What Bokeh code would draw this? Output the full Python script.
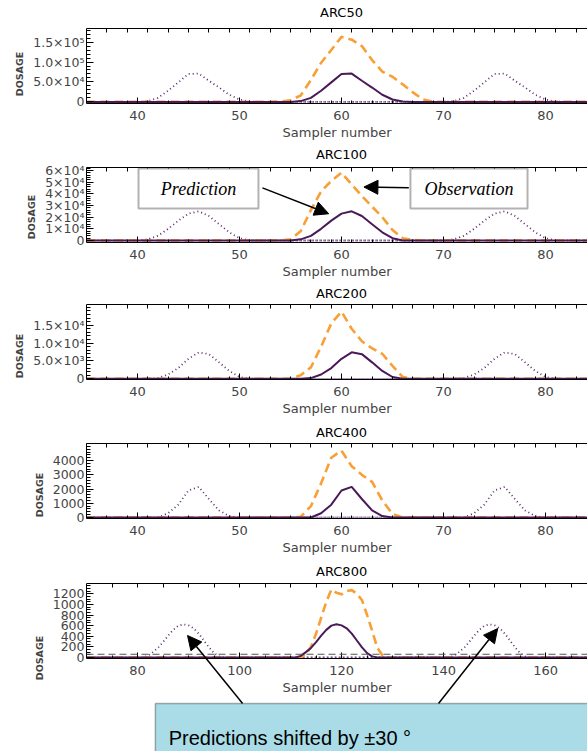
from bokeh.plotting import figure
from bokeh.layouts import column
from bokeh.models import (FixedTicker, LinearAxis, Range1d, Arrow, NormalHead,
                          Label, BoxAnnotation, Span)
from bokeh.embed import file_html
from bokeh.resources import INLINE

# ---------------- data ----------------
TITLES = ["ARC50", "ARC100", "ARC200", "ARC400", "ARC800"]

# Observations (first sampler number, dosage per sampler)
OBS50_START = 53
OBS50 = [0, 1e3, 4e3, 1.6e4, 5.5e4, 9.8e4, 1.3e5, 1.63e5, 1.56e5, 1.4e5,
         1.05e5, 7.6e4, 6.3e4, 4.4e4, 2.4e4, 6e3, 0]
OBS100_START = 54
OBS100 = [0, 1e3, 8e3, 2.6e4, 4.2e4, 5.1e4, 5.8e4, 4.8e4, 3.8e4, 2.9e4,
          2.0e4, 9e3, 2e3, 500, 0]
OBS200_START = 54
OBS200 = [0, 100, 1e3, 3.2e3, 9e3, 1.55e4, 1.88e4, 1.4e4, 1.05e4, 8.5e3,
          7e3, 3.6e3, 500, 0]
OBS400_START = 55
OBS400 = [0, 50, 800, 2.4e3, 4.2e3, 4.7e3, 3.6e3, 3.0e3, 2.5e3, 1.2e3, 250, 0]
OBS800_START = 112
OBS800 = [0, 60, 200, 450, 750, 1050, 1280, 1220, 1190, 1250, 1270, 1200,
          1080, 800, 500, 180, 40, 0]

# Predictions
PRED50_START = 55
PRED50 = [0, 2e3, 1e4, 2.8e4, 4.9e4, 7.0e4, 7.1e4, 5.3e4, 3.6e4, 1.8e4, 6e3, 1e3, 0]
PRED100_START = 55
PRED100 = [0, 1e3, 4e3, 1.0e4, 1.7e4, 2.3e4, 2.5e4, 2.1e4, 1.4e4, 7e3, 2e3, 0]
PRED200_START = 56
PRED200 = [0, 200, 1.2e3, 3e3, 5.6e3, 7.4e3, 6.9e3, 4.6e3, 2.2e3, 500, 0]
PRED400_START = 57
PRED400 = [0, 300, 900, 1.9e3, 2.15e3, 1.3e3, 500, 100, 0]
PRED800_START = 111
PRED800 = [0, 30, 100, 180, 290, 410, 520, 600, 625, 605, 550, 450, 320, 190, 80, 20, 0]

# shift of the predictions (samplers) corresponding to +/-30 degrees
SHIFT = [15, 15, 15, 15, 30]
THRESHOLD800 = 60

SAMPLER_SPAN = [(35, 85), (35, 85), (35, 85), (35, 85), (70, 170)]
X_RANGES = [(35, 84.12)] * 4 + [(70, 168.2)]
# plotted y extent of each panel
Y_RANGES = [(-4000, 184000), (-1700, 62500), (-200, 20800), (-70, 5200), (-20, 1395)]

X_TICKS = [[40, 50, 60, 70, 80]] * 4 + [[80, 100, 120, 140, 160]]
Y_TICKS = [[0, 5e4, 1e5, 1.5e5],
           [0, 1e4, 2e4, 3e4, 4e4, 5e4, 6e4],
           [0, 5e3, 1e4, 1.5e4],
           [0, 1000, 2000, 3000, 4000],
           [0, 200, 400, 600, 800, 1000, 1200]]
Y_LABELS = [["0", "5.0×10⁴", "1.0×10⁵", "1.5×10⁵"],
            ["0", "1×10⁴", "2×10⁴", "3×10⁴", "4×10⁴", "5×10⁴", "6×10⁴"],
            ["0", "5.0×10³", "1.0×10⁴", "1.5×10⁴"],
            ["0", "1000", "2000", "3000", "4000"],
            ["0", "200", "400", "600", "800", "1000", "1200"]]
Y_MINOR_STEP = [1e4, 2e3, 1e3, 200, 50]
X_MINOR_STEP = [2, 2, 2, 2, 5]

OBS = [(OBS50_START, OBS50), (OBS100_START, OBS100), (OBS200_START, OBS200),
       (OBS400_START, OBS400), (OBS800_START, OBS800)]
PRED = [(PRED50_START, PRED50), (PRED100_START, PRED100), (PRED200_START, PRED200),
        (PRED400_START, PRED400), (PRED800_START, PRED800)]

# ---------------- layout / style ----------------
FIG_W = 587
FIG_H = [147, 139, 139, 139, 187]
BOX_TOP = [28, 20, 18, 18, 19]      # px from figure top to top of plot box
BOX_H = 75                          # px height of plot box
TITLE_Y = [12, 7, 7, 7, 7]          # px from figure top to title centre

FONT = "DejaVu Sans"
PURPLE = "#4a1a58"
DOT_PURPLE = "#5c2c6c"
ORANGE = "#f8a036"


def series(start, vals, lo, hi):
    xs = [lo] + list(range(start, start + len(vals))) + [hi]
    ys = [0] + list(vals) + [0]
    return xs, ys


def frange(a, b, step):
    out = []
    v = a
    while v <= b + 1e-9:
        out.append(v)
        v += step
    return out


def head():
    return NormalHead(size=14, fill_color="black", line_color="black", line_width=1)


figs = []
for i in range(5):
    last = i == 4
    h = FIG_H[i]
    x0, x1 = X_RANGES[i]
    y0, y1 = Y_RANGES[i]
    s = (y1 - y0) / BOX_H
    ytop = y1 + BOX_TOP[i] * s
    ybot = y0 - (h - BOX_TOP[i] - BOX_H) * s

    p = figure(width=FIG_W, height=h, output_backend="svg", toolbar_location=None,
               x_range=Range1d(x0, x1), y_range=Range1d(ybot, ytop),
               min_border_left=86, min_border_right=0, min_border_top=0,
               min_border_bottom=0)
    p.outline_line_color = None
    p.grid.visible = False
    p.background_fill_color = "white"
    p.border_fill_color = "white"

    lo, hi = SAMPLER_SPAN[i]
    p.add_layout(Label(x=(lo + hi) / 2, y=ytop - TITLE_Y[i] * s, text=TITLES[i],
                       text_align="center", text_baseline="middle",
                       text_font=FONT, text_font_size="13px", text_color="black"))

    xa = p.xaxis[0]
    xa.ticker = FixedTicker(ticks=X_TICKS[i], minor_ticks=frange(x0, x1, X_MINOR_STEP[i]))
    xa.fixed_location = y0
    xa.axis_label = "Sampler number"
    xa.axis_label_text_font = FONT
    xa.axis_label_text_font_size = "13px"
    xa.axis_label_text_font_style = "normal"
    xa.axis_label_standoff = 2
    xa.major_label_text_font = FONT
    xa.major_label_text_font_size = "13px"
    xa.major_label_standoff = 7
    xa.major_tick_in = 6
    xa.major_tick_out = 0
    xa.minor_tick_in = 3
    xa.minor_tick_out = 0
    xa.axis_line_color = "black"

    ya = p.yaxis[0]
    ya.ticker = FixedTicker(ticks=Y_TICKS[i], minor_ticks=frange(0, y1, Y_MINOR_STEP[i]))
    ya.bounds = (y0, y1)
    ya.major_label_overrides = {t: l for t, l in zip(Y_TICKS[i], Y_LABELS[i])}
    ya.axis_label = "DOSAGE"
    ya.axis_label_text_font = FONT
    ya.axis_label_text_font_size = "9.5px"
    ya.axis_label_text_font_style = "bold"
    ya.axis_label_standoff = 5
    ya.major_label_text_font = FONT
    ya.major_label_text_font_size = "12.5px"
    ya.major_label_standoff = 2
    ya.major_tick_in = 7
    ya.major_tick_out = 0
    ya.minor_tick_in = 4
    ya.minor_tick_out = 0
    ya.axis_line_color = "black"

    top = LinearAxis(ticker=FixedTicker(ticks=[],
                                        minor_ticks=frange(x0, x1, X_MINOR_STEP[i])),
                     fixed_location=y1,
                     major_label_standoff=0, major_tick_in=0, major_tick_out=0,
                     minor_tick_in=4, minor_tick_out=0, axis_line_color="black")
    p.add_layout(top, "above")

    if last:
        p.add_layout(Span(location=THRESHOLD800, dimension="width",
                          line_color="#555555", line_dash="7 4", line_width=1))

    px, py = series(PRED[i][0], PRED[i][1], lo, hi)
    for sh in (-SHIFT[i], SHIFT[i]):
        p.line([x + sh for x in px], py, line_color=DOT_PURPLE, line_width=1.8,
               line_dash="1 3")
    ox, oy = series(OBS[i][0], OBS[i][1], lo, hi)
    p.line(ox, oy, line_color=ORANGE, line_width=2.6, line_dash="9 5")
    p.line(px, py, line_color=PURPLE, line_width=2)

    if i == 1:
        for (l, r, cx, txt) in [(40.1, 51.86, 45.98, "Prediction"),
                                (66.76, 78.24, 72.5, "Observation")]:
            p.add_layout(BoxAnnotation(left=l, right=r, top=61600, bottom=27400,
                                       fill_color="white", fill_alpha=1,
                                       line_color="black", line_width=2))
            p.add_layout(Label(x=cx, y=44500, text=txt, text_align="center",
                               text_baseline="middle", text_font="Liberation Serif",
                               text_font_style="italic", text_font_size="18px",
                               text_color="black"))
        p.add_layout(Arrow(end=head(), x_start=52.25, y_start=45100,
                           x_end=58.75, y_end=22900,
                           line_color="black", line_width=1.5))
        p.add_layout(Arrow(end=head(), x_start=66.6, y_start=45100,
                           x_end=62.2, y_end=45800,
                           line_color="black", line_width=1.5))
    if last:
        p.add_layout(BoxAnnotation(left=83.5, right=200, top=y0 - 45 * s,
                                   bottom=ybot - 10 * s,
                                   fill_color="#a9dce6", fill_alpha=1,
                                   line_color="black", line_width=1.5))
        p.add_layout(Label(x=86.1, y=y0 - 79 * s, text="Predictions shifted by ±30 °",
                           text_align="left", text_baseline="alphabetic",
                           text_font="Liberation Sans", text_font_size="20px",
                           text_color="black"))
        for (xs, ys, xe, ye) in [(100.6, y0 - 45 * s, 89.8, 414),
                                 (139.0, y0 - 45 * s, 150.6, 546)]:
            p.add_layout(Arrow(end=head(), x_start=xs, y_start=ys, x_end=xe, y_end=ye,
                               line_color="black", line_width=1.5))
    figs.append(p)

layout = column(*figs, spacing=0)
open("out.html", "w").write(file_html(layout, INLINE))
